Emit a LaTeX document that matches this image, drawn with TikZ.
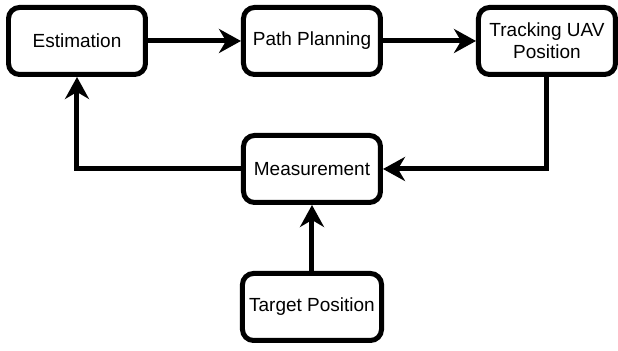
\documentclass[tikz,border=0pt]{standalone}
\usepackage{fontspec}
\setmainfont{Liberation Sans}
\usepackage{tikz}
\usetikzlibrary{arrows.meta,positioning}

\begin{document}
\begin{tikzpicture}[
    node distance=46.5pt,
    block/.style={rectangle, draw, line width=2.5pt, rounded corners=5.5pt, align=center, minimum width=68.5pt, minimum height=33.5pt, font=\fontsize{9.5}{11}\selectfont},
    line/.style={draw, line width=2.5pt, -{Stealth[length=11pt, width=12pt, inset=3.5pt]}}
]
\useasboundingbox (0,0) rectangle (309pt,-175.5pt);
\node [block] (estimation) at (38.5pt,-20.5pt) {Estimation};
\node [block, right=of estimation] (planning) {Path Planning};
\node [block, right=of planning] (tracking) {Tracking UAV\\Position};
\node [block, below=28pt of planning] (measurement) {Measurement};
\node [block, below=33pt of measurement] (target) {Target Position};

\path [line] (estimation) -- (planning);
\path [line] (planning) -- (tracking);
\path [line] (tracking) |- (measurement);
\path [line] (measurement) -| (estimation);
\path [line] (target) -- (measurement);

\end{tikzpicture}
\end{document}
